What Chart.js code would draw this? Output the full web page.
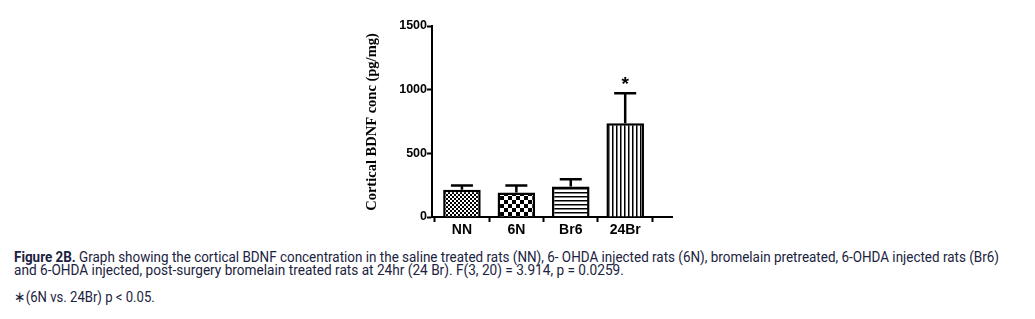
<!DOCTYPE html>
<html>
<head>
<meta charset="utf-8">
<script src="https://cdn.jsdelivr.net/npm/chart.js@4.4.1/dist/chart.umd.min.js"></script>
<style>
    body { margin: 0; background: #fff; width: 1035px; height: 319px; overflow: hidden; position: relative; }
    #grafico { position: absolute; left: 0; top: 0; }
    .cap { position: absolute; left: 14px; font-family: Roboto, sans-serif; font-size: 14.5px; line-height: 14px;
           color: #1b2340; white-space: nowrap; transform-origin: 0 0; display: inline-block; }
</style>
</head>
<body>
<canvas id="grafico" width="1035" height="245"></canvas>
<div class="cap" id="l1" data-w="985" style="top:251px"><b>Figure 2B.</b> Graph showing the cortical BDNF concentration in the saline treated rats (NN), 6- OHDA injected rats (6N), bromelain pretreated, 6-OHDA injected rats (Br6)</div>
<div class="cap" id="l2" data-w="610" style="top:263.5px">and 6-OHDA injected, post-surgery bromelain treated rats at 24hr (24 Br). F(3, 20) = 3.914, p = 0.0259.</div>
<div class="cap" id="l3" data-w="141" style="top:291px">∗(6N vs. 24Br) p &lt; 0.05.</div>
<script>
// dados do gráfico
const grupos = ['NN', '6N', 'Br6', '24Br'];
const medias = [214, 193, 240, 736];
const erros = [33, 54, 57, 235];       // SEM (só para cima)
const marcas = ['', '', '', '*'];      // significância
const ticksY = [0, 500, 1000, 1500];

// ajusta a largura das linhas da legenda
document.querySelectorAll('.cap').forEach(el => {
    const alvo = parseFloat(el.dataset.w);
    el.style.transform = 'scaleX(' + (alvo / el.offsetWidth) + ')';
});

// padrões de preenchimento
function criarPadrao(tipo) {
    const c = document.createElement('canvas');
    const g = c.getContext('2d');
    const n = tipo === 'xadrez' ? 8 : 4;
    c.width = c.height = n;
    g.fillStyle = '#fff';
    g.fillRect(0, 0, n, n);
    g.fillStyle = '#000';
    if (tipo === 'xadrezFino') {
        g.fillRect(0, 0, 2, 2); g.fillRect(2, 2, 2, 2);
    } else if (tipo === 'xadrez') {
        g.fillRect(0, 0, 4, 4); g.fillRect(4, 4, 4, 4);
    } else if (tipo === 'horizontal') {
        g.fillRect(0, 0, 4, 1.5);
    } else {
        g.fillRect(0, 0, 1.5, 4);
    }
    return document.getElementById('grafico').getContext('2d').createPattern(c, 'repeat');
}
const padroes = [criarPadrao('xadrezFino'), criarPadrao('xadrez'), criarPadrao('horizontal'), criarPadrao('vertical')];

// barras de erro, asterisco e título do eixo Y
const extras = {
    id: 'extras',
    afterDatasetsDraw(chart) {
        const ctx = chart.ctx;
        const y = chart.scales.y;
        const meta = chart.getDatasetMeta(0);
        ctx.save();
        ctx.strokeStyle = '#000';
        ctx.lineWidth = 2.5;
        meta.data.forEach((bar, i) => {
            const topo = y.getPixelForValue(medias[i] + erros[i]);
            ctx.beginPath();
            ctx.moveTo(bar.x, bar.y);
            ctx.lineTo(bar.x, topo);
            ctx.moveTo(bar.x - 11, topo);
            ctx.lineTo(bar.x + 11, topo);
            ctx.stroke();
            if (marcas[i]) {
                ctx.fillStyle = '#000';
                ctx.font = 'bold 19px "Liberation Sans", Arial, sans-serif';
                ctx.textAlign = 'center';
                ctx.textBaseline = 'middle';
                ctx.fillText(marcas[i], bar.x, topo - 9);
            }
        });
        ctx.translate(372, 122);
        ctx.rotate(-Math.PI / 2);
        ctx.fillStyle = '#000';
        ctx.font = 'bold 14.5px "Liberation Serif", "Times New Roman", serif';
        ctx.textAlign = 'center';
        ctx.textBaseline = 'middle';
        ctx.fillText('Cortical BDNF conc (pg/mg)', 0, 0);
        ctx.restore();
    }
};

const fonteY = { family: '"Liberation Sans", Arial, sans-serif', size: 12.5, weight: 'bold' };
const fonteX = { family: '"Liberation Sans", Arial, sans-serif', size: 14, weight: 'bold' };

new Chart(document.getElementById('grafico'), {
    type: 'bar',
    data: {
        datasets: [{
            data: medias.map((v, i) => ({ x: i, y: v })),
            backgroundColor: padroes,
            borderColor: '#000',
            borderWidth: 2.5,
            borderSkipped: 'start',
            barPercentage: 0.69,
            categoryPercentage: 1
        }]
    },
    options: {
        responsive: false,
        devicePixelRatio: 1,
        animation: false,
        layout: { padding: { left: 360, right: 363, top: 26, bottom: 4 } },
        plugins: { legend: { display: false }, tooltip: { enabled: false } },
        scales: {
            x: {
                type: 'linear',
                offset: false,
                min: -0.55,
                max: 3.86,
                afterBuildTicks: s => { s.ticks = grupos.map((g, i) => ({ value: i })); },
                afterFit: s => { s.height = 24; },
                ticks: { callback: v => grupos[v], font: fonteX, color: '#000', padding: 0, maxRotation: 0 },
                grid: { drawOnChartArea: false, tickLength: 5, tickColor: '#000', tickWidth: 2 },
                border: { color: '#000', width: 2 }
            },
            y: {
                min: 0,
                max: 1500,
                afterBuildTicks: s => { s.ticks = ticksY.map(v => ({ value: v })); },
                afterFit: s => { s.width = 72; },
                ticks: { callback: v => String(v), font: fonteY, color: '#000', padding: 0 },
                grid: { drawOnChartArea: false, tickLength: 5, tickColor: '#000', tickWidth: 2 },
                border: { color: '#000', width: 2 }
            }
        }
    },
    plugins: [extras]
});
</script>
</body>
</html>
